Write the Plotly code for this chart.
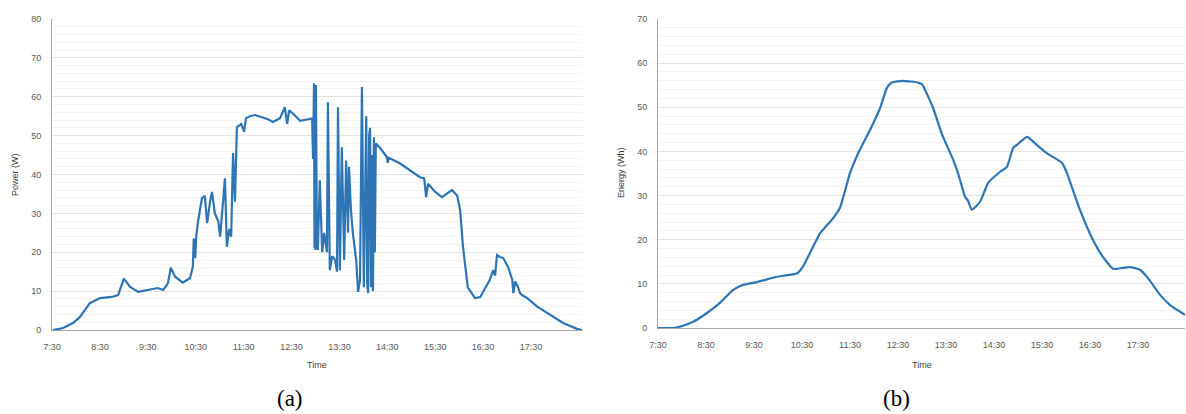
import plotly.graph_objects as go

# ---- data (time in decimal hours) ----
power_time = [7.52, 7.73, 7.94, 8.08, 8.29, 8.50, 8.75, 8.88, 9.00, 9.13, 9.30, 9.55, 9.71, 9.82,
              9.92, 9.98, 10.07, 10.23, 10.38, 10.44, 10.46, 10.49, 10.51, 10.55, 10.63, 10.69,
              10.74, 10.80, 10.84, 10.90, 10.97, 11.01, 11.05, 11.11, 11.15, 11.20, 11.24, 11.28,
              11.32, 11.36, 11.45, 11.51, 11.55, 11.63, 11.74, 12.01, 12.11, 12.26, 12.36, 12.41,
              12.45, 12.53, 12.68, 12.78, 12.93,
              12.95, 12.97, 12.98, 12.99, 13.00, 13.01, 13.03, 13.05, 13.09, 13.14, 13.18, 13.24,
              13.26, 13.30, 13.35, 13.41, 13.45, 13.47, 13.51, 13.55, 13.60, 13.64, 13.68, 13.70,
              13.74, 13.78, 13.85, 13.89, 13.93, 13.97, 14.01, 14.04, 14.06, 14.08, 14.10, 14.12,
              14.14, 14.16, 14.18, 14.20, 14.22, 14.24, 14.26,
              14.35, 14.49, 14.51, 14.53, 14.76, 15.18, 15.27, 15.31, 15.35, 15.50, 15.64, 15.85,
              15.96, 16.02, 16.08, 16.18, 16.33, 16.44, 16.64, 16.71, 16.75, 16.79, 16.85, 16.92,
              17.02, 17.06, 17.11, 17.13, 17.17, 17.23, 17.27, 17.31, 17.42, 17.63, 17.90, 18.17,
              18.46, 18.56]
power_w = [0, 0.5, 1.8, 3.3, 6.9, 8.2, 8.5, 9.0, 13.2, 11.1, 9.8, 10.3, 10.8, 10.3,
           12.0, 16.0, 13.7, 12.2, 13.3, 16.2, 23.5, 18.5, 24, 28, 33.9, 34.5,
           27.5, 33, 35.5, 30, 28, 24, 30, 39, 21.4, 26, 24, 45.5,
           33, 52.2, 53, 51, 54.5, 55, 55.3, 54.2, 53.5, 54.5, 57.3, 53,
           56.5, 55.7, 53.8, 54, 54.4,
           44, 63.5, 21, 62, 20.6, 63.0, 22, 20.6, 38.5, 20, 25, 20,
           58.6, 15.4, 19, 18, 15, 57.3, 15.4, 47, 18, 43.6, 25, 42,
           31, 25, 18, 9.8, 12.8, 62.5, 11, 40, 55, 12, 9.5, 50,
           52, 11, 45, 10, 49.6, 20, 48,
           46.8, 44.5, 43, 44.3, 42.9, 39.3, 39, 34.2, 37.6, 35.5, 34.2, 36,
           34.5, 30.8, 21.4, 11, 8.2, 8.5, 12.9, 15.4, 14.0, 19.3, 18.8, 18.5,
           16.2, 14.5, 12.9, 9.5, 12.5, 11, 9.5, 9.0, 8.2, 6, 3.9, 1.8,
           0.3, 0]

energy_time = [7.50, 7.81, 8.02, 8.23, 8.52, 8.79, 9.06, 9.25, 9.56, 9.98, 10.40, 10.52, 10.73,
               10.88, 11.12, 11.29, 11.50, 11.67, 11.92, 12.13, 12.27, 12.37, 12.60, 12.92, 13.00,
               13.23, 13.42, 13.65, 13.75, 13.90, 13.96, 14.04, 14.21, 14.38, 14.63, 14.77, 14.90,
               14.98, 15.19, 15.39, 15.60, 15.92, 16.02, 16.29, 16.56, 16.77, 16.98, 17.05, 17.33,
               17.54, 17.71, 17.96, 18.17, 18.48]
energy_wh = [0, 0, 0.5, 1.4, 3.4, 5.7, 8.6, 9.7, 10.4, 11.6, 12.4, 13.9, 18.4,
             21.5, 24.5, 27.2, 35.1, 39.6, 44.9, 49.9, 54.4, 55.6, 56.0, 55.6, 55.2,
             49.9, 43.8, 38.1, 35.1, 29.7, 28.8, 26.8, 28.6, 32.9, 35.4, 36.5, 40.8,
             41.5, 43.3, 41.5, 39.6, 37.4, 35.1, 26.8, 20.0, 16.1, 13.4, 13.4, 13.8,
             13.2, 11.3, 7.5, 5.2, 3.0]

tick_vals = [7.5, 8.5, 9.5, 10.5, 11.5, 12.5, 13.5, 14.5, 15.5, 16.5, 17.5]
tick_text = ["7:30", "8:30", "9:30", "10:30", "11:30", "12:30", "13:30", "14:30", "15:30", "16:30", "17:30"]

W, H = 1186, 414
LINE = "#2E75B6"
TICKC = "#595959"
TF = dict(family="Liberation Sans", size=9, color=TICKC)

fig = go.Figure()
fig.add_trace(go.Scatter(x=power_time, y=power_w, mode="lines",
                         line=dict(color=LINE, width=2.2), xaxis="x", yaxis="y", showlegend=False))
fig.add_trace(go.Scatter(x=energy_time, y=energy_wh, mode="lines",
                         line=dict(color=LINE, width=2.2, shape="spline", smoothing=0.5),
                         xaxis="x2", yaxis="y2", showlegend=False))

def xax(domain, rng, anchor):
    return dict(domain=domain, range=rng, anchor=anchor, tickmode="array", tickvals=tick_vals,
                ticktext=tick_text, showgrid=False, zeroline=False, showline=True,
                linecolor="#a6a6a6", linewidth=1, ticks="", tickfont=TF,
                ticklabelstandoff=8, fixedrange=True, automargin=False)

def yax(domain, rng, anchor):
    return dict(domain=domain, range=rng, anchor=anchor, dtick=10, showgrid=True,
                gridcolor="#e4e4e4", gridwidth=1, zeroline=False, showline=True,
                linecolor="#a6a6a6", linewidth=1, ticks="", tickfont=TF,
                ticklabelstandoff=8, automargin=False,
                minor=dict(dtick=2, showgrid=True, gridcolor="#f4f4f4", gridwidth=1))

fig.update_layout(
    width=W, height=H, margin=dict(l=0, r=0, t=0, b=0, autoexpand=False),
    paper_bgcolor="white", plot_bgcolor="white",
    xaxis=xax([52 / W, 583 / W], [7.5, 18.585], "y"),
    yaxis=yax([1 - 330 / H, 1 - 19 / H], [0, 80], "x"),
    xaxis2=xax([658 / W, 1185 / W], [7.5, 18.48], "y2"),
    yaxis2=yax([1 - 328 / H, 1 - 19 / H], [0, 70], "x2"),
)

ann = [
    dict(text="Power (W)", x=15 / W, y=1 - 175 / H, textangle=-90, font=dict(family="Liberation Sans", size=9, color="#404040")),
    dict(text="Energy (Wh)", x=621 / W, y=1 - 173 / H, textangle=-90, font=dict(family="Liberation Sans", size=9, color="#404040")),
    dict(text="Time", x=317 / W, y=1 - 365 / H, font=dict(family="Liberation Sans", size=9, color="#404040")),
    dict(text="Time", x=922 / W, y=1 - 365 / H, font=dict(family="Liberation Sans", size=9, color="#404040")),
    dict(text="(a)", x=290 / W, y=1 - 398 / H, font=dict(family="Liberation Serif", size=23, color="black")),
    dict(text="(b)", x=896 / W, y=1 - 398 / H, font=dict(family="Liberation Serif", size=23, color="black")),
]
for a in ann:
    a.update(xref="paper", yref="paper", showarrow=False, xanchor="center", yanchor="middle")
fig.update_layout(annotations=ann)

fig.write_html("out.html")
